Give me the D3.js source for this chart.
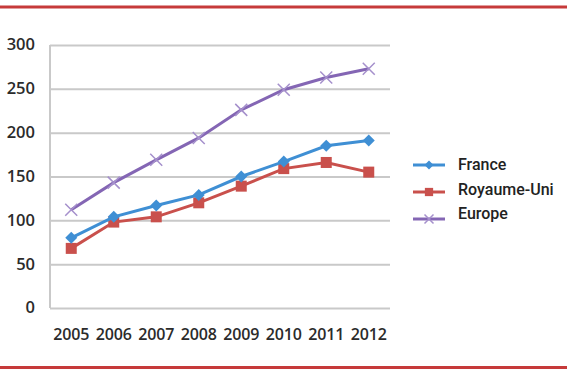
<!DOCTYPE html>
<html><head><meta charset="utf-8">
<script src="https://cdn.jsdelivr.net/npm/d3@7"></script>
<style>body{margin:0;background:#fff}svg{display:block}</style>
</head><body>
<script>
const years = ["2005","2006","2007","2008","2009","2010","2011","2012"];
const france = [80,104,117,129,150,167,185,191];
const royaumeUni = [68,98,104,120,139,159,166,155];
const europe = [112,143,169,194,226,249,263,273];
const yTicks = [0,50,100,150,200,250,300];
const seriesNames = ["France","Royaume-Uni","Europe"];

const W=567,H=375;
const svg=d3.select("body").append("svg").attr("width",W).attr("height",H);
const x=d3.scaleBand().domain(years).range([50,390]);
const y=d3.scaleLinear().domain([0,300]).range([308,45]);

// red borders
svg.append("rect").attr("x",0).attr("y",5.5).attr("width",W).attr("height",3).attr("fill","#c63a3a");
svg.append("rect").attr("x",0).attr("y",366).attr("width",W).attr("height",3).attr("fill","#c63a3a");

// gridlines
const ya=d3.axisLeft(y).tickValues(yTicks).tickSize(-340).tickPadding(15);
const gy=svg.append("g").attr("transform","translate(50,0)").call(ya);
gy.select(".domain").remove();
gy.selectAll(".tick line").attr("stroke","#c9c9c9").attr("stroke-width",2);
gy.selectAll(".tick text").attr("font-family","'Open Sans'").attr("font-weight","600").attr("font-size","16.5px").attr("fill","#2b2b2b").attr("dy","0.3em");
svg.append("line").attr("x1",50).attr("x2",50).attr("y1",y(300)).attr("y2",y(0)).attr("stroke","#c9c9c9").attr("stroke-width",2);

const xa=d3.axisBottom(x).tickSize(0).tickPadding(21);
const gx=svg.append("g").attr("transform","translate(0,308)").call(xa);
gx.select(".domain").remove();
gx.selectAll(".tick text").attr("font-family","'Open Sans'").attr("font-weight","600").attr("font-size","16px").attr("fill","#2b2b2b").attr("letter-spacing","-0.2px");

const cx=d=>x(d)+x.bandwidth()/2;
const series=[
 {name:seriesNames[0],vals:france,color:"#3f8fd4",mark:"diamond"},
 {name:seriesNames[1],vals:royaumeUni,color:"#c9504c",mark:"square"},
 {name:seriesNames[2],vals:europe,color:"#8466b4",mark:"x"}
];
const line=d3.line().x((d,i)=>cx(years[i])).y(d=>y(d));
function marker(g,type,color,px,py,s){
  if(type==="diamond"){
    g.append("path").attr("d",`M${px},${py-6*s}L${px+6*s},${py}L${px},${py+6*s}L${px-6*s},${py}Z`).attr("fill",color);
  } else if(type==="square"){
    g.append("rect").attr("x",px-5.5*s).attr("y",py-5.5*s).attr("width",11*s).attr("height",11*s).attr("fill",color);
  } else {
    g.append("path").attr("d",`M${px-6*s},${py-6*s}L${px+6*s},${py+6*s}M${px-6*s},${py+6*s}L${px+6*s},${py-6*s}`).attr("stroke","#a590cc").attr("stroke-width",1.5);
  }
}
series.slice().reverse().forEach(s=>{
  const g=svg.append("g");
  g.append("path").datum(s.vals).attr("d",line).attr("fill","none").attr("stroke",s.color).attr("stroke-width",3);
  s.vals.forEach((v,i)=>marker(g,s.mark,s.color,cx(years[i]),y(v),1));
});

// legend
const legLineY=[165,192,219], legTextY=[164,189,213];
series.forEach((s,i)=>{
  const ly=legLineY[i];
  const g=svg.append("g");
  g.append("line").attr("x1",413).attr("x2",445).attr("y1",ly).attr("y2",ly).attr("stroke",s.color).attr("stroke-width",3);
  marker(g,s.mark,s.color,429,ly,0.75);
  g.append("text").attr("x",458).attr("y",legTextY[i]).attr("dy","0.35em").attr("font-family","Roboto").attr("font-weight","500").attr("font-size","16px").attr("fill","#222").text(s.name);
});
</script>
</body></html>
